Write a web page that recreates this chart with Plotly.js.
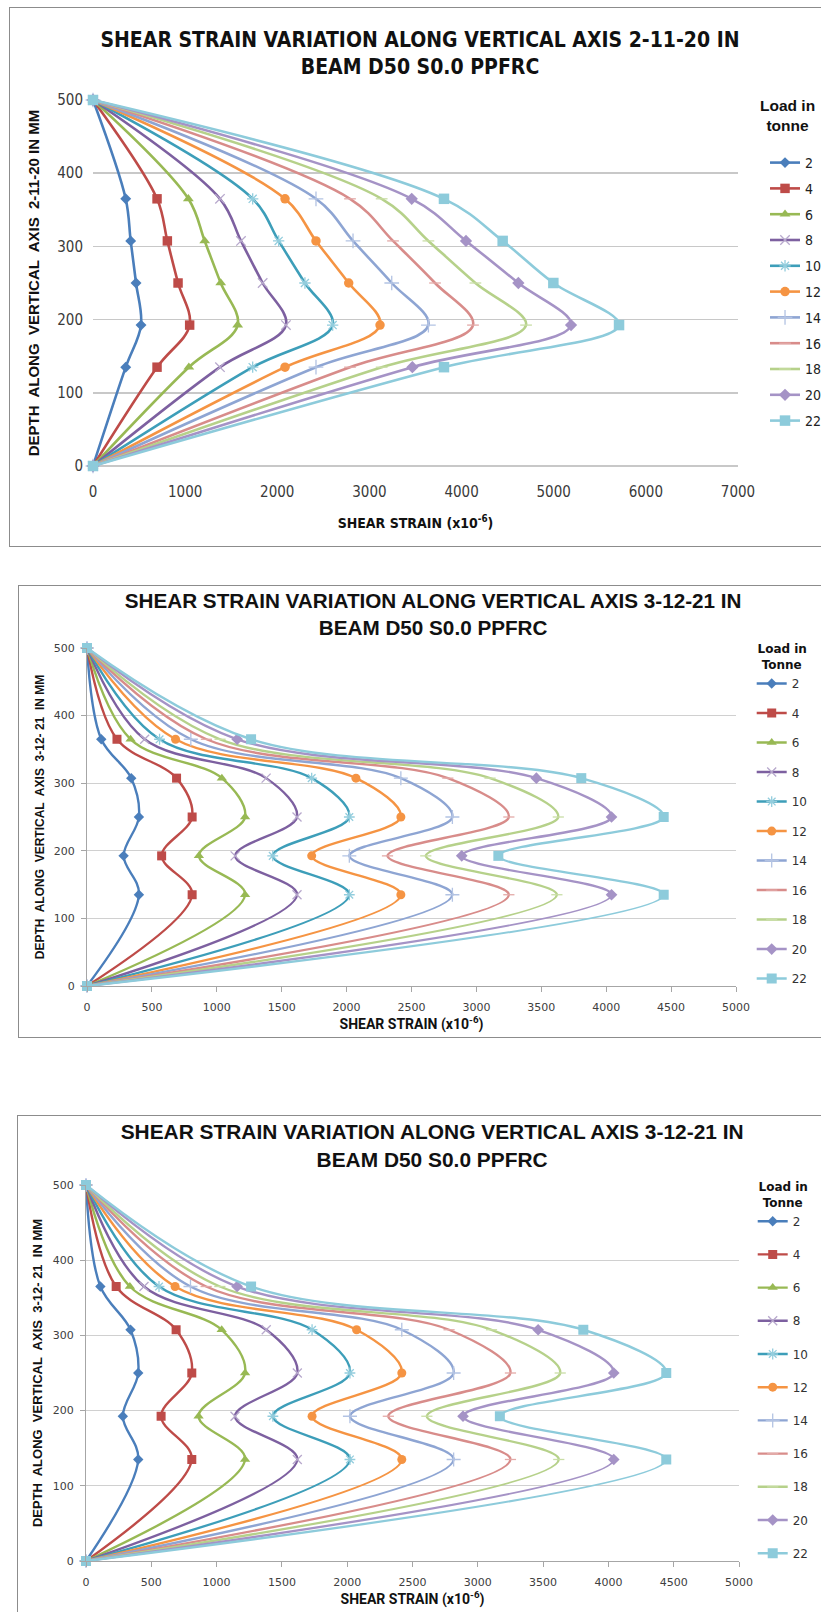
<!DOCTYPE html>
<html>
<head>
<meta charset="utf-8">
<script src="https://cdn.plot.ly/plotly-3.0.1.min.js"></script>
<style>
  html, body { margin:0; padding:0; background:#ffffff; overflow:hidden; width:821px; height:1612px; }
  .box { position:absolute; border:1px solid #8c8c8c; background:#fff; overflow:hidden; }
</style>
</head>
<body>
<div class="box" id="box1" style="left:9px; top:7px; width:830px; height:538px;"><div id="chart1"></div></div>
<div class="box" id="box2" style="left:18px; top:585px; width:830px; height:451px;"><div id="chart2"></div></div>
<div class="box" id="box3" style="left:17px; top:1115px; width:830px; height:520px;"><div id="chart3"></div></div>
<script>
// ---------------- DATA ----------------
// depth of the gauge points along the vertical axis (mm)
const depthMM = [0, 135, 192.5, 250, 307.5, 365, 500];
// loads (tonne) - legend entries
const loadTonne = ['2', '4', '6', '8', '10', '12', '14', '16', '18', '20', '22'];

// Chart 1: shear strain (x10^-6) along vertical axis 2-11-20
const axis2_11_20_L2  = [0, 355, 521, 467, 409, 355, 0];
const axis2_11_20_L4  = [0, 695, 1049, 923, 807, 695, 0];
const axis2_11_20_L6  = [0, 1040, 1570, 1386, 1212, 1035, 0];
const axis2_11_20_L8  = [0, 1378, 2094, 1841, 1606, 1378, 0];
const axis2_11_20_L10 = [0, 1733, 2601, 2300, 2015, 1733, 0];
const axis2_11_20_L12 = [0, 2084, 3115, 2775, 2420, 2084, 0];
const axis2_11_20_L14 = [0, 2420, 3640, 3242, 2822, 2420, 0];
const axis2_11_20_L16 = [0, 2789, 4124, 3712, 3256, 2789, 0];
const axis2_11_20_L18 = [0, 3133, 4700, 4150, 3640, 3133, 0];
const axis2_11_20_L20 = [0, 3466, 5188, 4616, 4048, 3459, 0];
const axis2_11_20_L22 = [0, 3809, 5709, 4996, 4446, 3809, 0];

// Chart 2 and chart 3: shear strain (x10^-6) along vertical axis 3-12-21 (both panels show the same readings)
const axis3_12_21_L2  = [0, 400, 282, 400, 341, 110, 0];
const axis3_12_21_L4  = [0, 810, 575, 810, 690, 231, 0];
const axis3_12_21_L6  = [0, 1218, 862, 1218, 1039, 336, 0];
const axis3_12_21_L8  = [0, 1618, 1141, 1618, 1380, 444, 0];
const axis3_12_21_L10 = [0, 2021, 1431, 2021, 1731, 559, 0];
const axis3_12_21_L12 = [0, 2418, 1731, 2418, 2072, 682, 0];
const axis3_12_21_L14 = [0, 2815, 2021, 2815, 2418, 800, 0];
const axis3_12_21_L16 = [0, 3250, 2315, 3250, 2780, 920, 0];
const axis3_12_21_L18 = [0, 3620, 2610, 3631, 3105, 1025, 0];
const axis3_12_21_L20 = [0, 4041, 2887, 4041, 3462, 1157, 0];
const axis3_12_21_L22 = [0, 4443, 3169, 4443, 3808, 1264, 0];

const series1 = [axis2_11_20_L2, axis2_11_20_L4, axis2_11_20_L6, axis2_11_20_L8, axis2_11_20_L10, axis2_11_20_L12,
                 axis2_11_20_L14, axis2_11_20_L16, axis2_11_20_L18, axis2_11_20_L20, axis2_11_20_L22];
const series2 = [axis3_12_21_L2, axis3_12_21_L4, axis3_12_21_L6, axis3_12_21_L8, axis3_12_21_L10, axis3_12_21_L12,
                 axis3_12_21_L14, axis3_12_21_L16, axis3_12_21_L18, axis3_12_21_L20, axis3_12_21_L22];

// ---------------- STYLE ----------------
const lineColors = ['#4A7EBB', '#BE4B48', '#98B954', '#7D60A0', '#3D9EB9', '#F59443',
                    '#8EA5D3', '#D88C8A', '#B6D18A', '#A593C6', '#8DCBDB'];
const markerSpecs = [
  {symbol:'diamond', size:8},
  {symbol:'square', size:9},
  {symbol:'triangle-up', size:9},
  {symbol:'x-thin', size:9, thin:'#B7A8CC'},
  {symbol:'asterisk', size:9, thin:'#93CDDD'},
  {symbol:'circle', size:9},
  {symbol:'cross-thin', size:10, thin:'#B3C3E3'},
  {symbol:'line-ew', size:8, thin:'#E3AAA8'},
  {symbol:'line-ew', size:8, thin:'#C9DEA6'},
  {symbol:'diamond', size:9},
  {symbol:'square', size:10}
];

function makeTraces(series, mscale, lw) {
  return series.map(function (vals, i) {
    const ms = markerSpecs[i];
    const marker = {symbol: ms.symbol, size: ms.size * mscale, color: lineColors[i]};
    if (ms.thin) { marker.color = ms.thin; marker.line = {color: ms.thin, width: 1.3}; }
    return {
      type: 'scatter', mode: 'lines+markers',
      x: vals, y: depthMM, name: loadTonne[i],
      legendgroup: 'g' + i,
      line: {color: lineColors[i], width: lw, shape: 'spline', smoothing: 1},
      marker: marker,
      cliponaxis: false
    };
  });
}

const narrow = 'Liberation Sans Narrow, DejaVu Sans Condensed, Arial Narrow, sans-serif';
const arialB = 'Liberation Sans, Arial, sans-serif';
const dejavu = 'DejaVu Sans, Verdana, sans-serif';
const roboto = 'Roboto, Open Sans, sans-serif';

// ---------- Chart 1 ----------
const layout1 = {
  width: 820, height: 538,
  margin: {l: 83, r: 92, t: 92, b: 80, pad: 0, autoexpand: false},
  paper_bgcolor: '#ffffff', plot_bgcolor: '#ffffff',
  showlegend: true,
  title: {
    text: 'SHEAR STRAIN VARIATION ALONG VERTICAL AXIS 2-11-20 IN<br>BEAM D50 S0.0 PPFRC',
    font: {family: narrow, size: 21, color: '#111111', weight: 'bold'},
    x: 0.5, xref: 'container', xanchor: 'center',
    y: 0.928, yref: 'container', yanchor: 'top'
  },
  xaxis: {
    range: [0, 7000], dtick: 1000, tick0: 0,
    showgrid: false, zeroline: false, showline: false, ticks: '',
    tickfont: {family: narrow, size: 15, color: '#3a3a3a'},
    ticklabelstandoff: 15,
    title: {text: 'SHEAR STRAIN (x10<sup>-6</sup>)', font: {family: narrow, size: 14, color: '#111111', weight: 'bold'}, standoff: 18},
    fixedrange: true
  },
  yaxis: {
    range: [0, 500], dtick: 100, tick0: 0,
    showgrid: true, gridcolor: '#C8C8C8', gridwidth: 1.6,
    zeroline: true, zerolinecolor: '#C8C8C8', zerolinewidth: 1.6,
    showline: false, ticks: '',
    tickfont: {family: narrow, size: 15, color: '#3a3a3a'},
    ticklabelstandoff: 9,
    title: {text: 'DEPTH\u00a0 ALONG\u00a0 VERTICAL\u00a0 AXIS\u00a0 2-11-20 IN MM', font: {family: arialB, size: 15, color: '#111111', weight: 'bold'}, standoff: 13},
    fixedrange: true
  },
  legend: {
    x: 1.0419, xanchor: 'left', y: 0.8716, yanchor: 'top',
    traceorder: 'grouped', tracegroupgap: 4.6, maxheight: 1000,
    font: {family: narrow, size: 14, color: '#222222'},
    bgcolor: 'rgba(0,0,0,0)', borderwidth: 0
  },
  annotations: [{
    text: 'Load in<br>tonne', xref: 'paper', yref: 'paper', x: 1.0775, y: 0.957,
    xanchor: 'center', yanchor: 'middle', align: 'center', showarrow: false,
    font: {family: arialB, size: 15.5, color: '#111111', weight: 'bold'}
  }]
};

// ---------- Charts 2 and 3 ----------
function layout3_12_21(h, t, plotW, plotH, l, titleY, titleSize, yTitleSize, yStandoff, xStandoff, legX, legY, gap) {
  const W = 812;
  return {
    width: W, height: h,
    margin: {l: l, r: W - l - plotW, t: t, b: h - t - plotH, pad: 0, autoexpand: false},
    paper_bgcolor: '#ffffff', plot_bgcolor: '#ffffff',
    showlegend: true,
    title: {
      text: 'SHEAR STRAIN VARIATION ALONG VERTICAL AXIS 3-12-21 IN<br>BEAM D50 S0.0 PPFRC',
      font: {family: arialB, size: titleSize, color: '#111111', weight: 'bold'},
      x: 0.51, xref: 'container', xanchor: 'center',
      y: titleY, yref: 'container', yanchor: 'top'
    },
    xaxis: {
      range: [0, 5000], dtick: 500, tick0: 0,
      showgrid: false, zeroline: false,
      showline: true, linecolor: '#A6A6A6', linewidth: 1,
      ticks: 'outside', ticklen: 5, tickcolor: '#A6A6A6',
      ticklabelstandoff: 6,
      tickfont: {family: dejavu, size: 11, color: '#404040'},
      title: {text: 'SHEAR STRAIN (x10<sup>-6</sup>)', font: {family: roboto, size: 14, color: '#111111', weight: 'bold'}, standoff: xStandoff},
      fixedrange: true
    },
    yaxis: {
      range: [0, 500], dtick: 100, tick0: 0,
      showgrid: true, gridcolor: '#D0D0D0', gridwidth: 1.3,
      zeroline: false,
      showline: true, linecolor: '#A6A6A6', linewidth: 1,
      ticks: 'outside', ticklen: 5, tickcolor: '#A6A6A6',
      ticklabelstandoff: 4,
      tickfont: {family: dejavu, size: 11, color: '#404040'},
      title: {text: 'DEPTH\u00a0 ALONG\u00a0 VERTICAL\u00a0 AXIS\u00a0 3-12-\u00a021\u00a0 IN MM', font: {family: arialB, size: yTitleSize, color: '#111111', weight: 'bold'}, standoff: yStandoff},
      fixedrange: true
    },
    legend: {
      x: legX, xanchor: 'left', y: legY, yanchor: 'top',
      traceorder: 'grouped', tracegroupgap: gap, maxheight: 1000,
      font: {family: dejavu, size: 12, color: '#333333'},
      bgcolor: 'rgba(0,0,0,0)', borderwidth: 0,
      title: {text: 'Load in<br>\u00a0Tonne', side: 'top center', font: {family: dejavu, size: 12, color: '#111111', weight: 'bold'}}
    }
  };
}

const layout2 = layout3_12_21(451, 62, 649, 338, 68, 0.951, 20.7, 12, 6, 4, 1.0242, 1.03, 10.5);
const layout3 = layout3_12_21(520, 69, 653, 376, 68, 0.955, 20.9, 13, 7, 4, 1.021, 1.0253, 14.2);

const config = {staticPlot: true, displayModeBar: false};
Plotly.newPlot('chart1', makeTraces(series1, 1.05, 2.6), layout1, config);
Plotly.newPlot('chart2', makeTraces(series2, 1.0, 2.4), layout2, config);
Plotly.newPlot('chart3', makeTraces(series2, 1.0, 2.4), layout3, config);
</script>
</body>
</html>
